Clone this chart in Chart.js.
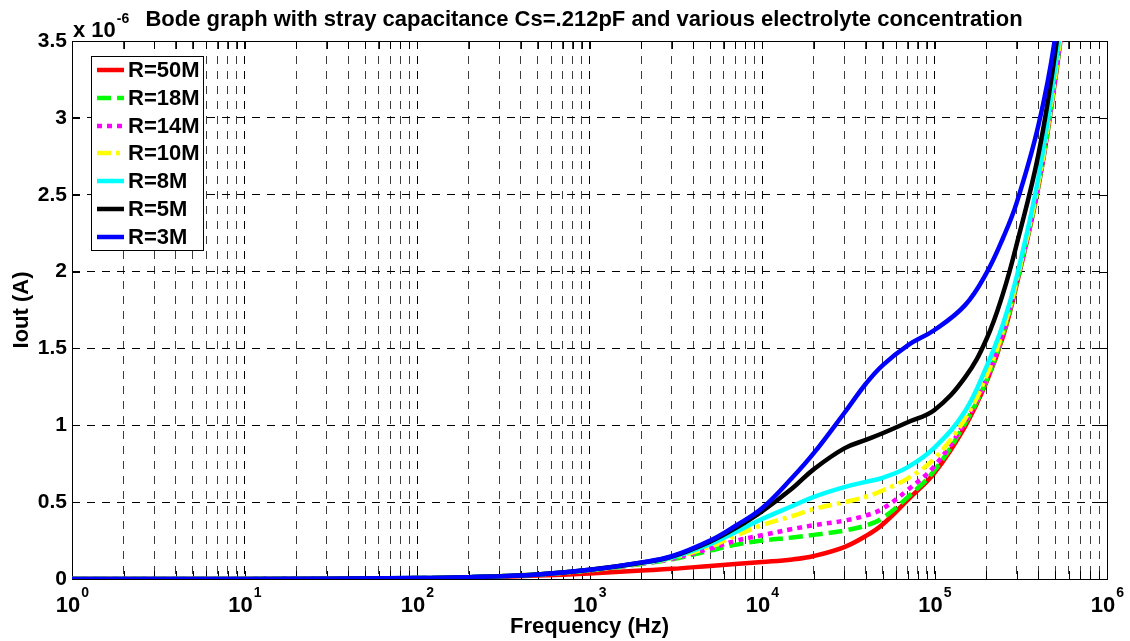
<!DOCTYPE html>
<html>
<head>
<meta charset="utf-8">
<title>Bode graph</title>
<script src="https://cdn.jsdelivr.net/npm/chart.js@4.4.1/dist/chart.umd.min.js"></script>
<style>
  html, body { margin: 0; padding: 0; background: #ffffff; }
  #wrap { width: 1130px; height: 641px; }
</style>
</head>
<body>
<div id="wrap"><canvas id="bode" width="1130" height="641"></canvas></div>
<script>
// Frequency sweep (Hz) shared by every curve
const frequencyHz = [1, 10, 100, 200, 500, 1e3, 2e3, 3e3, 5e3, 7e3, 1e4, 1.5e4, 2e4, 3e4, 4e4, 5e4, 7e4, 1e5, 1.5e5, 2e5, 2.5e5, 3e5, 4e5, 5e5, 6e5];

// Output current in units of 1e-6 A, one list per electrolyte resistance
const iout_R50M = [0.00005, 0.0005, 0.005, 0.010, 0.022, 0.036, 0.055, 0.066, 0.085, 0.097, 0.110, 0.127, 0.150, 0.208, 0.280, 0.355, 0.515, 0.690, 0.990, 1.280, 1.580, 1.920, 2.550, 3.240, 3.940];
const iout_R18M = [0.00006, 0.0006, 0.006, 0.012, 0.030, 0.056, 0.098, 0.128, 0.185, 0.222, 0.250, 0.270, 0.287, 0.315, 0.348, 0.396, 0.533, 0.707, 1.010, 1.290, 1.595, 1.930, 2.560, 3.250, 3.950];
const iout_R14M = [0.00006, 0.0006, 0.006, 0.012, 0.030, 0.057, 0.100, 0.132, 0.198, 0.248, 0.285, 0.325, 0.350, 0.380, 0.413, 0.457, 0.580, 0.735, 1.020, 1.300, 1.605, 1.935, 2.565, 3.260, 3.950];
const iout_R10M = [0.00006, 0.0006, 0.006, 0.012, 0.030, 0.058, 0.102, 0.136, 0.212, 0.280, 0.350, 0.410, 0.455, 0.500, 0.535, 0.576, 0.655, 0.785, 1.040, 1.320, 1.620, 1.945, 2.575, 3.270, 3.960];
const iout_R8M  = [0.00006, 0.0006, 0.006, 0.012, 0.030, 0.059, 0.104, 0.140, 0.226, 0.305, 0.390, 0.475, 0.535, 0.598, 0.632, 0.658, 0.728, 0.855, 1.090, 1.380, 1.660, 1.970, 2.610, 3.320, 4.000];
const iout_R5M  = [0.00006, 0.0006, 0.006, 0.012, 0.030, 0.060, 0.106, 0.145, 0.243, 0.330, 0.440, 0.590, 0.715, 0.850, 0.905, 0.948, 1.020, 1.100, 1.310, 1.560, 1.860, 2.180, 2.760, 3.420, 4.150];
const iout_R3M  = [0.00006, 0.0006, 0.006, 0.012, 0.030, 0.060, 0.108, 0.148, 0.250, 0.345, 0.460, 0.660, 0.820, 1.080, 1.270, 1.390, 1.520, 1.620, 1.780, 1.990, 2.220, 2.450, 2.950, 3.520, 4.300];

const seriesLabels = ['R=50M', 'R=18M', 'R=14M', 'R=10M', 'R=8M', 'R=5M', 'R=3M'];
const seriesValues = [iout_R50M, iout_R18M, iout_R14M, iout_R10M, iout_R8M, iout_R5M, iout_R3M];

// Axis ticks
const xDecadeExponents = [0, 1, 2, 3, 4, 5, 6];
const yTickValues = [0, 0.5, 1, 1.5, 2, 2.5, 3, 3.5];

const titleText = 'Bode graph with stray capacitance Cs=.212pF and various electrolyte concentration';
const xTitleText = 'Frequency (Hz)';
const yTitleText = 'Iout (A)';

// Line styling per series
const seriesColors = ['#ff0000', '#00ff00', '#ff00ff', '#ffff00', '#00ffff', '#000000', '#0000ff'];
const seriesDashes = [[], [14, 6], [5, 5], [14, 5, 4, 5], [], [], []];

const FONT = '"Liberation Sans", Arial, Helvetica, sans-serif';

// All grid positions on the log axis: 1..9 in every decade up to 1e6
const xGridValues = [];
for (let e = xDecadeExponents[0]; e < xDecadeExponents[xDecadeExponents.length - 1]; e++) {
  for (let m = 1; m <= 9; m++) xGridValues.push(m * Math.pow(10, e));
}
xGridValues.push(Math.pow(10, xDecadeExponents[xDecadeExponents.length - 1]));

const isDecade = v => Math.abs(Math.log10(v) - Math.round(Math.log10(v))) < 1e-9;

const datasets = seriesLabels.map((label, i) => ({
  label,
  data: frequencyHz.map((f, k) => ({ x: f, y: seriesValues[i][k] })),
  borderColor: seriesColors[i],
  backgroundColor: seriesColors[i],
  borderWidth: 4.5,
  borderDash: seriesDashes[i],
  borderCapStyle: 'butt',
  pointRadius: 0,
  pointHoverRadius: 0,
  fill: false,
  tension: 0.4,
  order: seriesLabels.length - i   // later series drawn on top
}));

// Frame, inner tick marks, titles, superscript tick labels and legend
const decorations = {
  id: 'decorations',
  beforeDatasetsDraw(chart) {
    const { ctx, chartArea: a, scales: { x, y } } = chart;
    ctx.save();
    ctx.strokeStyle = '#000';
    ctx.lineWidth = 1;
    ctx.setLineDash([]);
    ctx.beginPath();
    x.ticks.forEach(t => {
      const px = Math.round(x.getPixelForValue(t.value)) + 0.5;
      ctx.moveTo(px, a.bottom); ctx.lineTo(px, a.bottom - 8);
      ctx.moveTo(px, a.top); ctx.lineTo(px, a.top + 8);
    });
    y.ticks.forEach(t => {
      const py = Math.round(y.getPixelForValue(t.value)) + 0.5;
      ctx.moveTo(a.left, py); ctx.lineTo(a.left + 8, py);
      ctx.moveTo(a.right, py); ctx.lineTo(a.right - 8, py);
    });
    ctx.stroke();
    ctx.strokeRect(Math.round(a.left) + 0.5, Math.round(a.top) + 0.5,
                   Math.round(a.right - a.left), Math.round(a.bottom - a.top));
    ctx.restore();
  },
  afterDraw(chart) {
    const { ctx, chartArea: a, scales: { x } } = chart;
    ctx.save();
    ctx.fillStyle = '#000';

    // Title
    ctx.font = 'bold 22px ' + FONT;
    ctx.textAlign = 'center';
    ctx.textBaseline = 'alphabetic';
    ctx.fillText(titleText, 584, 26);

    // Exponent multiplier above the y axis
    ctx.textAlign = 'left';
    ctx.font = 'bold 22px ' + FONT;
    ctx.fillText('x 10', 73, 37);
    const wx = ctx.measureText('x 10').width;
    ctx.font = 'bold 14px ' + FONT;
    ctx.fillText('-6', 73 + wx + 1, 23);

    // Decade labels 10^n under the x axis
    xDecadeExponents.forEach(e => {
      const px = x.getPixelForValue(Math.pow(10, e));
      ctx.font = 'bold 22px ' + FONT;
      const wBase = ctx.measureText('10').width;
      ctx.font = 'bold 14px ' + FONT;
      const wExp = ctx.measureText(String(e)).width;
      const left = px - (wBase + wExp) / 2;
      ctx.font = 'bold 22px ' + FONT;
      ctx.textAlign = 'left';
      ctx.fillText('10', left, 612);
      ctx.font = 'bold 14px ' + FONT;
      ctx.fillText(String(e), left + wBase + 1, 597);
    });

    // Axis titles
    ctx.font = 'bold 22px ' + FONT;
    ctx.textAlign = 'center';
    ctx.fillText(xTitleText, (a.left + a.right) / 2, 633);
    ctx.save();
    ctx.translate(22, (a.top + a.bottom) / 2);
    ctx.rotate(-Math.PI / 2);
    ctx.textBaseline = 'middle';
    ctx.fillText(yTitleText, 0, 0);
    ctx.restore();

    // Legend box
    const box = { left: 91, top: 56, right: 203, bottom: 250 };
    ctx.fillStyle = '#fff';
    ctx.fillRect(box.left, box.top, box.right - box.left, box.bottom - box.top);
    ctx.strokeStyle = '#000';
    ctx.lineWidth = 1;
    ctx.setLineDash([]);
    ctx.strokeRect(box.left + 0.5, box.top + 0.5, box.right - box.left, box.bottom - box.top);
    ctx.font = 'bold 22px ' + FONT;
    ctx.textAlign = 'left';
    ctx.textBaseline = 'middle';
    seriesLabels.forEach((label, i) => {
      const cy = 70 + i * 27.8;
      ctx.strokeStyle = seriesColors[i];
      ctx.lineWidth = 4.5;
      ctx.lineCap = 'butt';
      ctx.setLineDash(seriesDashes[i]);
      ctx.beginPath();
      ctx.moveTo(97, Math.round(cy));
      ctx.lineTo(124, Math.round(cy));
      ctx.stroke();
      ctx.setLineDash([]);
      ctx.fillStyle = '#000';
      ctx.fillText(label, 128, cy + 1);
    });
    ctx.restore();
  }
};

new Chart(document.getElementById('bode'), {
  type: 'line',
  data: { datasets },
  plugins: [decorations],
  options: {
    responsive: false,
    devicePixelRatio: 1,
    animation: false,
    events: [],
    layout: { padding: { top: 41, right: 23, bottom: 0, left: 0 } },
    plugins: { legend: { display: false }, tooltip: { enabled: false }, title: { display: false } },
    scales: {
      x: {
        type: 'logarithmic',
        min: 1,
        max: 1e6,
        afterBuildTicks: scale => { scale.ticks = xGridValues.map(v => ({ value: v, major: isDecade(v) })); },
        afterFit: scale => { scale.height = 62; },
        ticks: { display: false, autoSkip: false },
        grid: {
          color: c => (c.tick && isDecade(c.tick.value)) ? '#000000' : '#3c3c3c',
          lineWidth: 1,
          drawTicks: false
        },
        border: { display: false, dash: [8, 7] }
      },
      y: {
        type: 'linear',
        min: 0,
        max: 3.5,
        afterBuildTicks: scale => { scale.ticks = yTickValues.map(v => ({ value: v })); },
        afterFit: scale => { scale.width = 72; },
        ticks: {
          color: '#000',
          font: { family: FONT, size: 21, weight: 'bold' },
          padding: 5,
          autoSkip: false,
          callback: v => String(v)
        },
        grid: { color: '#000000', lineWidth: 1, drawTicks: false },
        border: { display: false, dash: [8, 7] }
      }
    }
  }
});
</script>
</body>
</html>
